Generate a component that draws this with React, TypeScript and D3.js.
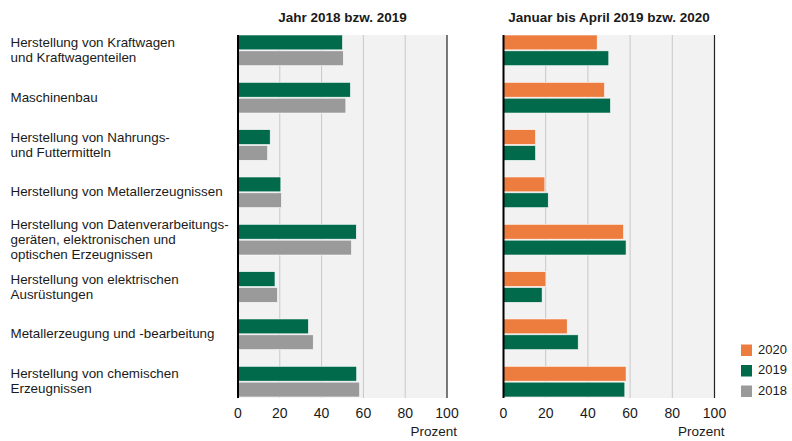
import React from "react";
import * as d3 from "d3";

const categories: string[][] = [
  ["Herstellung von Kraftwagen", "und Kraftwagenteilen"],
  ["Maschinenbau"],
  ["Herstellung von Nahrungs-", "und Futtermitteln"],
  ["Herstellung von Metallerzeugnissen"],
  ["Herstellung von Datenverarbeitungs-", "geräten, elektronischen und", "optischen Erzeugnissen"],
  ["Herstellung von elektrischen", "Ausrüstungen"],
  ["Metallerzeugung und -bearbeitung"],
  ["Herstellung von chemischen", "Erzeugnissen"],
];

const left2019 = [50.0, 53.8, 15.4, 20.5, 56.6, 17.7, 33.7, 56.8];
const left2018 = [50.4, 51.6, 14.2, 20.8, 54.3, 18.9, 36.0, 58.2];
const right2020 = [44.4, 47.9, 15.2, 19.6, 56.9, 20.1, 30.2, 58.1];
const right2019 = [49.9, 50.7, 15.2, 21.2, 58.1, 18.3, 35.4, 57.5];

const ticks = [0, 20, 40, 60, 80, 100];
const titles = ["Jahr 2018 bzw. 2019", "Januar bis April 2019 bzw. 2020"];
const legendLabels = ["2020", "2019", "2018"];

const C2020 = "#ed7d3f";
const C2019 = "#006a4b";
const C2018 = "#9a9a9a";
const FONT = "'Liberation Sans', Arial, sans-serif";

export default function App() {
  const W = 792, H = 441;
  const top = 35, bottom = 398;
  const idx = categories.map((_, i) => String(i));
  const y = d3.scaleBand<string>().domain(idx).range([top, bottom]).paddingInner(0.33).paddingOuter(0);
  const bw = y.bandwidth();
  const barH = bw / 2;

  const panels = [
    { x0: 238, x1: 447, title: titles[0], series: [{ v: left2019, c: C2019 }, { v: left2018, c: C2018 }] },
    { x0: 503.5, x1: 714.5, title: titles[1], series: [{ v: right2020, c: C2020 }, { v: right2019, c: C2019 }] },
  ];

  return (
    <svg width={W} height={H} style={{ position: "absolute", left: 0, top: 0, fontFamily: FONT }}>
      <rect x={0} y={0} width={W} height={H} fill="#fff" />
      {categories.map((lines, i) => {
        const cy = (y(String(i)) as number) + bw / 2;
        const lh = 15;
        const start = cy - ((lines.length - 1) * lh) / 2;
        return (
          <text key={i} fontSize={13.4} fill="#1a1a1a">
            {lines.map((l, j) => (
              <tspan key={j} x={10.5} y={start + j * lh} dominantBaseline="middle">{l}</tspan>
            ))}
          </text>
        );
      })}
      {panels.map((p, pi) => {
        const x = d3.scaleLinear().domain([0, 100]).range([p.x0, p.x1]);
        return (
          <g key={pi}>
            <rect x={x(0)} y={top} width={x(100) - x(0)} height={bottom - top} fill="#f2f2f2" />
            {ticks.slice(1, -1).map(t => (
              <line key={t} x1={x(t)} x2={x(t)} y1={top} y2={bottom} stroke="#c8c8c8" strokeWidth={1} />
            ))}
            {p.series.map((s, si) =>
              s.v.map((v, i) => (
                <rect key={si + "-" + i} x={x(0)} y={(y(String(i)) as number) + si * barH}
                  width={x(v) - x(0)} height={barH - 1} fill={s.c} stroke="#ffffff" strokeWidth={0.6} />
              ))
            )}
            <line x1={x(0)} x2={x(0)} y1={top} y2={bottom} stroke="#000" strokeWidth={2} />
            <line x1={x(100)} x2={x(100)} y1={top} y2={bottom} stroke="#222" strokeWidth={1.2} />
            {ticks.map(t => (
              <text key={t} x={x(t)} y={414} textAnchor="middle" dominantBaseline="middle" fontSize={14} fill="#1a1a1a">{t}</text>
            ))}
            <text x={x(100) + 10} y={432.5} textAnchor="end" dominantBaseline="middle" fontSize={13.5} fill="#1a1a1a">Prozent</text>
            <text x={(x(0) + x(100)) / 2} y={18} textAnchor="middle" dominantBaseline="middle" fontSize={13.5} fontWeight="bold" fill="#1a1a1a">{p.title}</text>
          </g>
        );
      })}
      {legendLabels.map((l, i) => (
        <g key={l}>
          <rect x={741} y={344.5 + i * 20.5} width={11} height={11.5} fill={[C2020, C2019, C2018][i]} />
          <text x={758} y={350.5 + i * 20.5} dominantBaseline="middle" fontSize={13} fill="#1a1a1a">{l}</text>
        </g>
      ))}
    </svg>
  );
}
